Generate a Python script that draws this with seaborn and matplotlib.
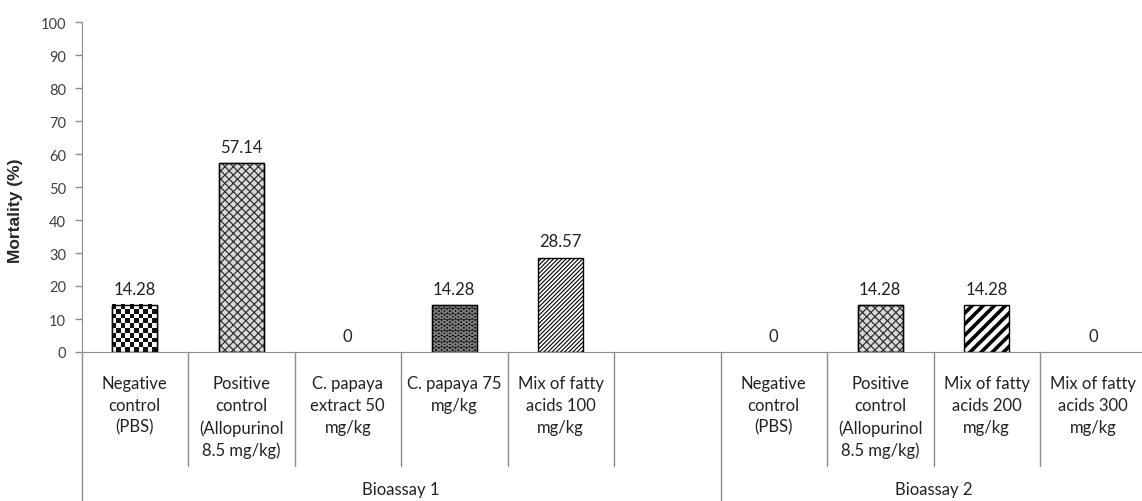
import numpy as np
import pandas as pd
import matplotlib
matplotlib.use("Agg")
import matplotlib.pyplot as plt
import matplotlib.transforms as mtransforms
from matplotlib.colors import ListedColormap
from matplotlib.patches import Rectangle
import seaborn as sns

# mortality per treatment, two bioassays (one empty slot closes bioassay 1)
categories = ["Negative\ncontrol\n(PBS)", "Positive\ncontrol\n(Allopurinol\n8.5 mg/kg)",
              "C. papaya\nextract 50\nmg/kg", "C. papaya 75\nmg/kg",
              "Mix of fatty\nacids 100\nmg/kg", "",
              "Negative\ncontrol\n(PBS)", "Positive\ncontrol\n(Allopurinol\n8.5 mg/kg)",
              "Mix of fatty\nacids 200\nmg/kg", "Mix of fatty\nacids 300\nmg/kg"]
mortality = [14.28, 57.14, 0, 14.28, 28.57, np.nan, 0, 14.28, 14.28, 0]
groups = ["Bioassay 1"] * 6 + ["Bioassay 2"] * 4
patterns = ["check", "cross", None, "dots", "thin", None, None, "cross", "thick", None]

df = pd.DataFrame({"slot": range(len(categories)), "label": categories,
                   "mortality": mortality, "group": groups})

sns.set_style("white")
plt.rcParams["font.family"] = ["Lato", "DejaVu Sans"]

fig = plt.figure(figsize=(11.42, 5.02), dpi=100)
ax = fig.add_axes([81.5 / 1142, 1 - 353 / 502, 1065 / 1142, 330 / 502])

sns.barplot(data=df, x="slot", y="mortality", order=list(df["slot"]), width=0.42,
            color="white", edgecolor="black", linewidth=1, errorbar=None, ax=ax)

gray = "#8c8c8c"
ax.set_ylim(0, 100)
ax.set_xlim(-0.5, len(categories) - 0.5)
ax.set_yticks(range(0, 101, 10))
ax.set_xticks([])
ax.set_xlabel("")
ax.set_ylabel("Mortality (%)", fontsize=12.5, fontweight="bold",
              family=["Liberation Sans", "DejaVu Sans"])
ax.yaxis.set_label_coords(-0.055, 0.43)
ax.tick_params(axis="y", left=True, length=5, width=1, color=gray, pad=6,
               labelsize=10.5, labelcolor="#404040")
for s in ["top", "right"]:
    ax.spines[s].set_visible(False)
for s in ["left", "bottom"]:
    ax.spines[s].set_color(gray)

bars = ax.containers[0]
ax.bar_label(bars, fmt="{:g}", padding=6, fontsize=12, color="#222222")


def outline(bar):
    ax.add_patch(Rectangle(bar.get_xy(), bar.get_width(), bar.get_height(), fill=False,
                           edgecolor="black", linewidth=1, zorder=bar.get_zorder() + 0.5))


for bar in bars:
    idx = int(round(bar.get_x() + bar.get_width() / 2))
    kind = patterns[idx]
    if bar.get_height() == 0:
        bar.set_linewidth(0)
        continue
    if kind == "check":
        x0, y0 = bar.get_xy()
        w, h = bar.get_width(), bar.get_height()
        p0 = ax.transData.transform((x0, y0))
        p1 = ax.transData.transform((x0 + w, y0 + h))
        nx = max(1, int(round((p1[0] - p0[0]) / 4.6)))
        ny = max(1, int(round((p1[1] - p0[1]) / 4.6)))
        grid = np.add.outer(np.arange(ny), np.arange(nx)) % 2
        ax.imshow(grid, cmap=ListedColormap(["#111111", "#f4f4f4"]), aspect="auto",
                  extent=(x0, x0 + w, y0, y0 + h), interpolation="nearest",
                  clip_path=bar, zorder=bar.get_zorder() + 0.1)
        outline(bar)
    elif kind == "cross":
        bar.set_facecolor("#d9d9d9")
        bar.set_edgecolor("#333333")
        bar.set_hatch("xxxx")
        if hasattr(bar, "set_hatch_linewidth"):
            bar.set_hatch_linewidth(0.9)
        outline(bar)
    elif kind == "dots":
        bar.set_facecolor("#0d0d0d")
        bar.set_edgecolor("#7a7a7a")
        bar.set_hatch("OOO")
        if hasattr(bar, "set_hatch_linewidth"):
            bar.set_hatch_linewidth(1.0)
        outline(bar)
    elif kind == "thin":
        bar.set_hatch("////////")
        if hasattr(bar, "set_hatch_linewidth"):
            bar.set_hatch_linewidth(0.8)
    elif kind == "thick":
        bar.set_hatch("///")
        if hasattr(bar, "set_hatch_linewidth"):
            bar.set_hatch_linewidth(2.6)

ax.set_ylim(0, 100)
ax.set_xlim(-0.5, len(categories) - 0.5)

# category table below the axis
trans = mtransforms.blended_transform_factory(ax.transData, ax.transAxes)
cat_depth = -114 / 330
grp_depth = -150 / 330
for i, lab in enumerate(categories):
    ax.annotate(lab, xy=(i, 0), xycoords=trans, xytext=(0, -23), textcoords="offset pixels",
                ha="center", va="top", fontsize=12, color="#222222", linespacing=1.45,
                annotation_clip=False)

boundaries = np.arange(-0.5, len(categories), 1.0)
group_edges = [-0.5] + [i + 0.5 for i in range(len(groups) - 1) if groups[i] != groups[i + 1]] + [len(groups) - 0.5]
for b in boundaries:
    depth = grp_depth if b in group_edges else cat_depth
    ax.plot([b, b], [0, depth], transform=trans, color=gray, lw=1, clip_on=False)

for g in pd.unique(df["group"]):
    pos = df.loc[df["group"] == g, "slot"]
    ax.text((pos.min() + pos.max()) / 2, -137 / 330, g, transform=trans, ha="center",
            va="center", fontsize=12, color="#222222")

fig.savefig("out.png", dpi=100)
